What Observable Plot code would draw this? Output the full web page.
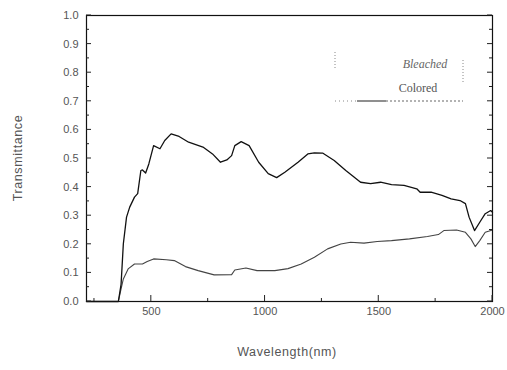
<!DOCTYPE html>
<html><head><meta charset="utf-8">
<script src="https://cdn.jsdelivr.net/npm/d3@7"></script>
<script src="https://cdn.jsdelivr.net/npm/@observablehq/plot@0.6"></script>
<style>body{margin:0;background:#fff}#c{position:relative;width:507px;height:370px}</style>
</head><body><div id="c"></div>
<script>
// Bleached (upper curve)
const bleachedWl = [215, 355, 367, 377, 391, 405, 426, 440, 454, 461, 475, 489, 510, 538, 559, 587, 622, 664, 727, 769, 804, 832, 853, 867, 895, 930, 972, 1014, 1051, 1087, 1145, 1188, 1217, 1253, 1304, 1355, 1391, 1420, 1464, 1508, 1556, 1611, 1667, 1682, 1730, 1778, 1818, 1857, 1881, 1897, 1921, 1944, 1968, 1992, 2000];
const bleachedT  = [0, 0, 0.06, 0.202, 0.295, 0.33, 0.365, 0.377, 0.458, 0.46, 0.449, 0.481, 0.545, 0.534, 0.563, 0.586, 0.577, 0.557, 0.54, 0.516, 0.487, 0.495, 0.51, 0.545, 0.559, 0.545, 0.487, 0.447, 0.433, 0.452, 0.487, 0.516, 0.52, 0.519, 0.493, 0.458, 0.435, 0.417, 0.412, 0.417, 0.409, 0.406, 0.394, 0.382, 0.382, 0.371, 0.359, 0.353, 0.342, 0.295, 0.248, 0.277, 0.307, 0.318, 0.312];
// Colored (lower curve)
const coloredWl = [215, 355, 367, 377, 398, 426, 461, 482, 510, 566, 601, 650, 706, 776, 853, 867, 916, 965, 1043, 1101, 1159, 1217, 1275, 1333, 1376, 1435, 1493, 1556, 1635, 1714, 1762, 1786, 1842, 1881, 1905, 1924, 1944, 1968, 2000];
const coloredT  = [0, 0, 0.044, 0.079, 0.114, 0.131, 0.131, 0.14, 0.149, 0.146, 0.143, 0.122, 0.108, 0.093, 0.094, 0.11, 0.117, 0.108, 0.108, 0.115, 0.131, 0.155, 0.184, 0.201, 0.207, 0.204, 0.21, 0.213, 0.219, 0.227, 0.234, 0.248, 0.25, 0.242, 0.219, 0.192, 0.213, 0.242, 0.25];
const xTicks = [500, 1000, 1500, 2000];
const xMinor = [250, 750, 1250, 1750];
const yTicks = [0, 0.1, 0.2, 0.3, 0.4, 0.5, 0.6, 0.7, 0.8, 0.9, 1.0];
const yMinor = [0.05, 0.15, 0.25, 0.35, 0.45, 0.55, 0.65, 0.75, 0.85, 0.95];
const seriesNames = ["Bleached", "Colored"];
const xTitle = "Wavelength(nm)";
const yTitle = "Transmittance";

const bleached = bleachedWl.map((w, i) => ({wl: w, t: bleachedT[i]}));
const colored = coloredWl.map((w, i) => ({wl: w, t: coloredT[i]}));
const X0 = 215, X1 = 2000;

const plot = Plot.plot({
  width: 507, height: 370,
  marginLeft: 86, marginRight: 15, marginTop: 15, marginBottom: 69,
  x: {domain: [X0, X1]},
  y: {domain: [0, 1]},
  style: {fontFamily: "'Liberation Sans', Arial, sans-serif", fontSize: "11px", color: "#555", background: "#fff"},
  marks: [
    Plot.axisY(yTicks, {tickSize: 0, tickPadding: 8, tickFormat: d => d.toFixed(1), label: null, fill: "#555"}),
    Plot.axisX(xTicks, {tickSize: 0, tickPadding: 6, tickFormat: d => String(d), label: null, fill: "#555"}),
    Plot.line(colored, {x: "wl", y: "t", stroke: "#444", strokeWidth: 1.1}),
    Plot.line(bleached, {x: "wl", y: "t", stroke: "#111", strokeWidth: 1.3}),
    Plot.frame({stroke: "#111", strokeWidth: 1.2})
  ]
});

const svg = d3.select(plot);
const sx = plot.scale("x"), sy = plot.scale("y");
const tk = svg.append("g").attr("stroke", "#222").attr("stroke-width", 1);
const xl = sx.apply(X0), xr = sx.apply(X1), yb = sy.apply(0);
yTicks.forEach(v => {
  const y = sy.apply(v);
  tk.append("line").attr("x1", xl).attr("x2", xl + 5).attr("y1", y).attr("y2", y);
  tk.append("line").attr("x1", xr - 5).attr("x2", xr).attr("y1", y).attr("y2", y);
});
yMinor.forEach(v => {
  const y = sy.apply(v);
  tk.append("line").attr("x1", xl).attr("x2", xl + 3).attr("y1", y).attr("y2", y);
  tk.append("line").attr("x1", xr - 3).attr("x2", xr).attr("y1", y).attr("y2", y);
});
xTicks.forEach(v => {
  const x = sx.apply(v);
  tk.append("line").attr("x1", x).attr("x2", x).attr("y1", yb).attr("y2", yb - 6);
});
xMinor.forEach(v => {
  const x = sx.apply(v);
  tk.append("line").attr("x1", x).attr("x2", x).attr("y1", yb).attr("y2", yb - 3);
});

svg.append("text").attr("transform", "translate(22,158) rotate(-90)")
  .attr("text-anchor", "middle").attr("fill", "#555")
  .style("font-size", "12.5px").style("letter-spacing", "0.6px").text(yTitle);
svg.append("text").attr("x", 287).attr("y", 356)
  .attr("text-anchor", "middle").attr("fill", "#555")
  .style("font-size", "12.5px").style("letter-spacing", "0.6px").text(xTitle);

// legend
const lg = svg.append("g").attr("fill", "none");
lg.append("line").attr("x1", 335).attr("x2", 335).attr("y1", 52).attr("y2", 68)
  .attr("stroke", "#888").attr("stroke-dasharray", "1,2");
lg.append("line").attr("x1", 463).attr("x2", 463).attr("y1", 60).attr("y2", 84)
  .attr("stroke", "#888").attr("stroke-dasharray", "1,2");
lg.append("line").attr("x1", 335).attr("x2", 357).attr("y1", 101).attr("y2", 101)
  .attr("stroke", "#888").attr("stroke-dasharray", "1,3");
lg.append("line").attr("x1", 357).attr("x2", 386).attr("y1", 101).attr("y2", 101)
  .attr("stroke", "#333").attr("stroke-width", 1.1);
lg.append("line").attr("x1", 386).attr("x2", 463).attr("y1", 101).attr("y2", 101)
  .attr("stroke", "#666").attr("stroke-dasharray", "2,2");
svg.append("text").attr("x", 425).attr("y", 68).attr("text-anchor", "middle")
  .attr("fill", "#666").style("font-family", "'Liberation Serif', serif")
  .style("font-style", "italic").style("font-size", "12px").text(seriesNames[0]);
svg.append("text").attr("x", 418).attr("y", 92).attr("text-anchor", "middle")
  .attr("fill", "#555").style("font-family", "'Liberation Serif', serif")
  .style("font-size", "12px").text(seriesNames[1]);

document.getElementById("c").appendChild(plot);
</script></body></html>
